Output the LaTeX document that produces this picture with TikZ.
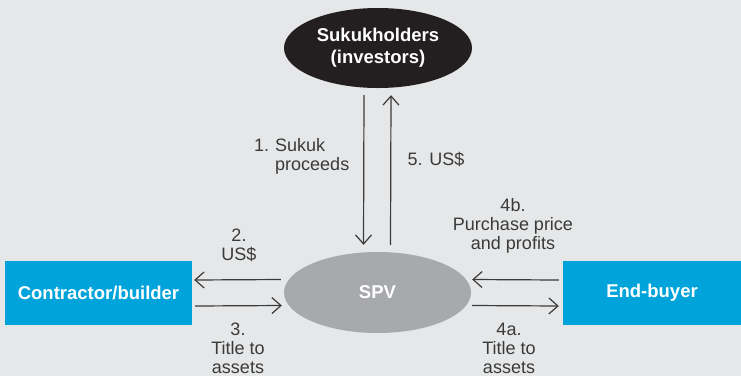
\documentclass[tikz,border=0pt]{standalone}
\usepackage{fontspec}
\setmainfont{Liberation Sans}
\usetikzlibrary{shapes.geometric,arrows.meta}
\definecolor{bg}{HTML}{E6E7E8}
\definecolor{bluebox}{HTML}{00A3DA}
\definecolor{spvgray}{HTML}{A7A9AC}
\definecolor{darkell}{HTML}{231F20}
\definecolor{txt}{HTML}{3A3A3A}
\tikzset{
  lbl/.style={text=txt, font=\fontsize{18}{19}\selectfont, align=center, inner sep=0pt},
  boxtext/.style={text=white, font=\fontsize{18.5}{22}\selectfont\bfseries, align=center},
  bluenode/.style={boxtext, fill=bluebox, minimum height=64pt, inner sep=0pt},
  ell/.style={boxtext, ellipse, inner sep=0pt},
  arr/.style={draw=txt, line width=1.2pt, -{Straight Barb[length=9pt,width=16pt,line width=1.2pt]}}
}
\begin{document}
\begin{tikzpicture}[x=1pt,y=-1pt]
\fill[bg] (0,0) rectangle (741,376);
\useasboundingbox (0,0) rectangle (741,376);
% nodes
\node[ell, fill=darkell, minimum width=188pt, minimum height=80pt] (suk) at (378,48) {Sukukholders\\(investors)};
\node[ell, fill=spvgray, minimum width=187pt, minimum height=81pt] (spv) at (377.5,292.5) {SPV};
\node[bluenode, minimum width=187pt] (cb) at (98.5,293) {Contractor/builder};
\node[bluenode, minimum width=178pt] (eb) at (652,293) {End-buyer};
% vertical arrows
\draw[arr] ([xshift=-14pt,yshift=-7pt]suk.south) -- ([xshift=-14pt,yshift=7pt]spv.north);
\draw[arr] ([xshift=13pt,yshift=7pt]spv.north) -- ([xshift=13pt,yshift=-7pt]suk.south);
% left arrows
\draw[arr] ([xshift=-3pt,yshift=13pt]spv.west) -- ([xshift=2pt,yshift=13pt]cb.east);
\draw[arr] ([xshift=3pt,yshift=-13pt]cb.east) -- ([xshift=-2pt,yshift=-13pt]spv.west);
% right arrows
\draw[arr] ([xshift=-4pt,yshift=13pt]eb.west) -- ([xshift=1pt,yshift=13pt]spv.east);
\draw[arr] ([xshift=1pt,yshift=-13pt]spv.east) -- ([xshift=-4pt,yshift=-13pt]eb.west);
% labels
\node[lbl, anchor=west] (l1) at (254,157.5) {\begin{tabular}{@{}l@{\hspace{6pt}}l@{}}1.&Sukuk\\&proceeds\end{tabular}};
\node[lbl] (l5) at (436,159) {5. US\$};
\node[lbl] (l2) at (239,245) {2.\\US\$};
\node[lbl] (l3) at (238,348) {3.\\Title to\\assets};
\node[lbl] (l4b) at (513,226) {4b.\\Purchase price\\and profits};
\node[lbl] (l4a) at (509,348) {4a.\\Title to\\assets};
\end{tikzpicture}
\end{document}
